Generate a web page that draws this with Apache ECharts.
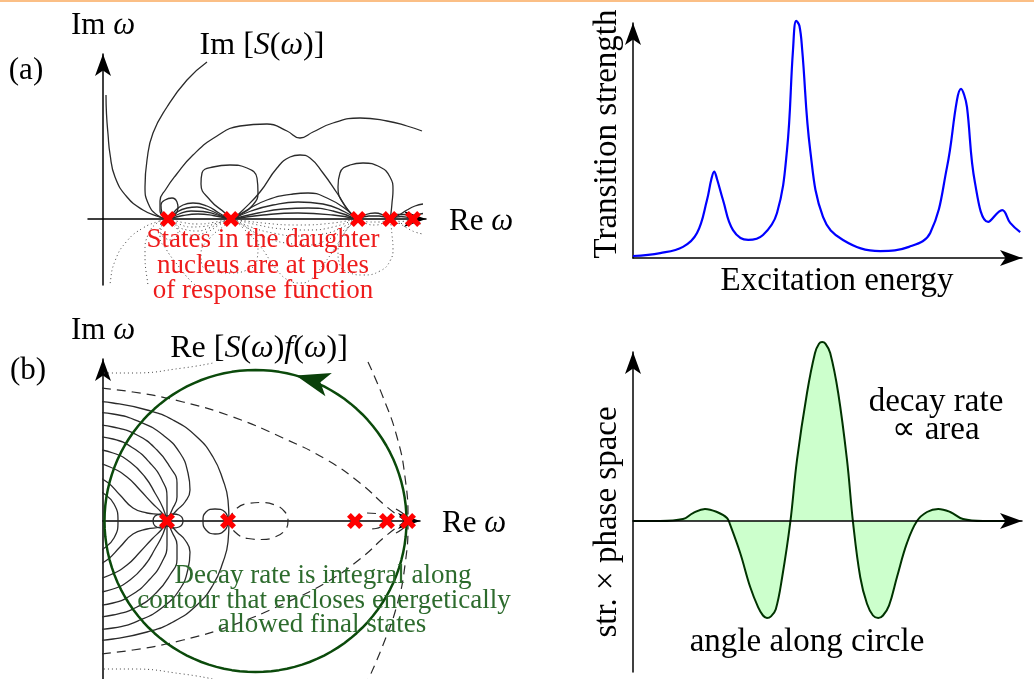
<!DOCTYPE html>
<html><head><meta charset="utf-8">
<script src="https://cdn.jsdelivr.net/npm/echarts@6/dist/echarts.min.js"></script>
<style>html,body{margin:0;padding:0;background:#fff}#c{width:1034px;height:679px}</style>
</head><body><div id="c"></div>
<script>
// ---------- Panel (a): Im[S(w)] contours, units of Re w / Im w ----------
const polesA = [6.5, 12.8, 25.5, 28.7, 31.0];
const aC1 = [[0.3,12.4],[0.35,10.5],[0.5,8.5],[0.7,6.5],[1.2,4.2],[2.4,2.2],[4.0,0.9],[5.5,0.25],[6.4,0]];
const aC2 = [[10.4,15.7],[8.4,13.9],[6.4,11.2],[5.0,8.6],[4.4,5.9],[4.2,3.2],[4.5,1.6],[5.4,0.4],[6.4,0]];
const aC3 = [[6.4,0],[5.7,0.8],[5.7,1.8],[6.3,3.0],[7.3,4.4],[9.0,6.4],[11.4,8.3],[13.7,9.3],[16.4,9.5],[18.4,8.8],[19.7,8.1],[21.0,8.7],[23.0,9.6],[25.7,10.1],[28.4,9.8],[30.4,9.3],[31.9,8.8]];
const aLoop1 = [[6.4,0],[5.9,0.6],[5.8,1.4],[6.2,1.9],[6.9,2.1],[7.4,1.7],[7.5,1.1],[7.2,0.4],[6.6,0]];
const aL12a = [[6.6,0],[7.2,0.8],[8.0,1.4],[9.0,1.6],[10.4,1.3],[11.6,0.6],[12.6,0]];
const aL12b = [[6.6,0],[7.4,0.7],[8.4,1.1],[9.4,1.2],[10.6,0.9],[11.7,0.4],[12.6,0]];
const aL12c = [[6.6,0],[7.6,0.5],[8.8,0.8],[10.0,0.75],[11.3,0.45],[12.6,0]];
const aL12d = [[6.6,0],[8.0,0.35],[9.5,0.5],[11.0,0.35],[12.6,0]];
const aLoop2 = [[12.8,0],[12.2,0.6],[10.7,1.9],[9.8,3.5],[9.9,4.6],[11.0,5.2],[12.7,5.4],[14.4,5.1],[15.4,4.1],[15.5,2.6],[14.9,1.3],[13.7,0.4],[13.0,0]];
const aPeak23 = [[13.0,0],[14.0,0.9],[15.7,2.7],[17.4,5.1],[18.7,6.2],[19.7,6.4],[20.7,6.1],[22.0,4.6],[23.4,2.6],[24.5,0.9],[25.3,0]];
const aL23a = [[13.0,0],[14.4,0.9],[16.4,1.9],[19.0,2.5],[20.5,2.6],[22.4,2.1],[24.4,0.9],[25.3,0]];
const aL23b = [[13.0,0],[14.8,0.8],[17.0,1.4],[19.5,1.7],[22.0,1.5],[24.2,0.7],[25.3,0]];
const aL23c = [[13.0,0],[15.5,0.6],[18.0,1.0],[20.5,1.1],[23.0,0.8],[25.3,0]];
const aL23d = [[13.0,0],[16.0,0.4],[19.5,0.6],[23.0,0.4],[25.3,0]];
const aLoop34 = [[25.4,0],[24.0,1.6],[23.5,3.2],[23.7,4.6],[24.7,5.4],[26.0,5.6],[27.7,5.2],[28.7,4.2],[29.0,2.9],[28.9,1.6],[28.8,0.6],[28.7,0]];
const aL34a = [[25.6,0],[26.3,0.45],[27.2,0.6],[28.0,0.4],[28.6,0]];
const aL34b = [[25.6,0],[26.6,0.3],[27.6,0.3],[28.6,0]];
const aL45a = [[28.8,0],[29.4,0.45],[30.1,0.45],[30.9,0]];
const aL45b = [[28.8,0],[29.8,0.25],[30.9,0]];
const aRight1 = [[28.9,0],[29.6,0.4],[30.4,0.9],[31.2,1.3],[32.0,1.5]];
const aRight2 = [[31.0,0],[31.5,0.4],[32.0,0.55]];

// ---------- Panel (b): Re[S(w) f(w)] contours ----------
const polesB = [6.4, 12.5, 25.2, 28.4, 30.5];
const bB1 = [[-1.5,12.0],[1.0,11.8],[4.4,11.1],[7.0,10.1],[9.4,8.4],[11.0,6.4],[12.0,4.1],[12.5,2.1],[12.6,0]];
const bB2 = [[-1.5,10.9],[1.0,10.7],[3.7,9.9],[6.0,8.6],[7.7,6.8],[8.5,4.8],[8.7,3.1],[8.2,1.9],[7.4,1.1],[6.4,0]];
const bB3 = [[-1.5,9.7],[1.0,9.4],[3.4,8.6],[5.4,7.1],[6.7,5.4],[7.4,3.8],[7.4,2.4],[6.9,1.1],[6.4,0]];
const bB4 = [[-1.5,8.5],[1.0,8.2],[3.0,7.3],[4.7,5.8],[5.9,4.1],[6.4,2.4],[6.4,0]];
const bB5 = [[-1.5,7.3],[1.0,6.8],[2.7,5.9],[4.2,4.4],[5.2,2.8],[6.0,1.3],[6.4,0]];
const bB6 = [[-1.5,6.1],[0.7,5.4],[2.4,4.4],[3.7,3.1],[4.9,1.8],[5.9,0.8],[6.4,0]];
const bB7 = [[-1.5,4.9],[0.4,3.9],[1.7,2.6],[3.0,1.3],[4.4,0.8],[5.7,0.6],[6.4,0]];
const bA1 = [[-1.5,2.4],[-1.0,1.4],[-0.8,0],[-1.0,-1.4],[-1.5,-2.4]];
const bA2 = [[-1.5,3.6],[0,2.8],[1.1,1.7],[1.5,0],[1.1,-1.7],[0,-2.8],[-1.5,-3.6]];
const bLoopP1 = [[5.0,0],[5.2,0.5],[5.8,0.7],[6.4,0.5],[7.0,0.7],[7.6,0.6],[8.0,0],[7.6,-0.6],[7.0,-0.7],[6.4,-0.5],[5.8,-0.7],[5.2,-0.5],[5.0,0]];
const bLoopP2 = [[12.5,0],[12.2,0.9],[11.2,1.2],[10.3,0.9],[10.0,0],[10.3,-0.9],[11.2,-1.3],[12.2,-0.9],[12.5,0]];
const bEll = [[12.6,0],[13.2,1.1],[14.5,1.75],[15.8,1.85],[17.2,1.6],[18.2,0.9],[18.5,0],[18.2,-0.9],[17.2,-1.6],[15.8,-1.85],[14.5,-1.75],[13.2,-1.1],[12.6,0]];
const bD1 = [[-1.6,13.4],[3.0,12.9],[8.0,11.9],[13.0,10.4],[18.0,8.3],[22.4,6.1],[25.7,3.8],[28.4,1.4],[30.3,0]];
const bD2 = [[26.5,15.9],[28.0,12.4],[29.4,8.4],[30.2,4.4],[30.5,0]];
const bDot = [[-1.5,14.8],[3.0,14.8],[8.0,15.3],[11.0,15.8]];
const bL34 = [[26.4,0.8],[27.3,0.75],[28.0,0.4],[28.3,0]];
const bStar = [[29.3,1.2],[30.5,0],[29.3,-1.2]];
const circleCenter = [15.25, 0];
const circleRadius = 15.1;
const arrowAngleDeg = 74.5;

// ---------- Top right: transition strength vs excitation energy ----------
const strength = [[0,0.08],[0.68,0.2],[1.25,0.45],[1.6,1.01],[1.85,2.35],[1.96,3.2],[2.03,3.5],[2.1,3.2],[2.25,2.35],[2.5,1.13],[2.88,0.73],[3.25,0.93],[3.6,1.82],[3.85,4.37],[4.0,8.42],[4.08,9.6],[4.16,9.4],[4.23,8.42],[4.43,4.37],[4.75,1.66],[5.25,0.73],[6.18,0.28],[6.9,0.45],[7.43,1.01],[7.85,3.68],[8.1,6.4],[8.2,6.85],[8.28,6.6],[8.35,6.11],[8.55,3.04],[8.88,1.46],[9.23,1.94],[9.43,1.42],[9.68,1.05]];

// ---------- Bottom right: strength x phase space vs angle along circle ----------
const integrand = [[0,0],[0.68,0],[1.25,0.11],[1.5,0.44],[1.8,0.67],[2.1,0.5],[2.35,0.17],[2.43,-0.22],[2.68,-1.78],[2.93,-3.67],[3.13,-4.8],[3.25,-5.25],[3.35,-5.39],[3.45,-5.3],[3.57,-4.9],[3.73,-3.11],[3.93,-0.11],[4.1,3.39],[4.35,7.11],[4.55,9.33],[4.65,9.85],[4.73,9.94],[4.81,9.85],[4.93,9.33],[5.13,7.11],[5.35,3.39],[5.5,-0.06],[5.68,-3.11],[5.85,-4.6],[6.0,-5.25],[6.13,-5.39],[6.25,-5.25],[6.4,-4.7],[6.6,-3.11],[6.85,-1.22],[7.1,0],[7.35,0.5],[7.63,0.67],[7.93,0.5],[8.25,0.11],[8.75,0],[9.5,0]];

// ---------- build ----------
const mirror = d => d.map(p => [p[0], -p[1]]);
const SOLID = {color:'#2a2a2a', width:1.3, type:'solid'};
const DASH = {color:'#2a2a2a', width:1.2, type:[9,6]};
const DOT = {color:'#444', width:1, type:[1,3]};
function ln(data, gi, style, extra) {
  return Object.assign({type:'line', xAxisIndex:gi, yAxisIndex:gi, data:data, smooth:0.5, symbol:'none',
    clip:false, silent:true, lineStyle:style, z:3, animation:false}, extra || {});
}
const series = [];
const aSolid = [aC1,aC2,aC3,aLoop1,aL12a,aL12b,aL12c,aL12d,aLoop2,aPeak23,aL23a,aL23b,aL23c,aL23d,aLoop34,aL34a,aL34b,aL45a,aL45b,aRight1,aRight2];
aSolid.forEach(d => series.push(ln(d, 0, SOLID)));
aSolid.forEach(d => series.push(ln(mirror(d), 0, DOT, {clip:true})));

const bSolidHalf = [bB1,bB2,bB3,bB4,bB5,bB6,bB7];
bSolidHalf.forEach(d => { series.push(ln(d,1,SOLID)); series.push(ln(mirror(d),1,SOLID)); });
[bA1,bA2,bLoopP1,bLoopP2,bStar].forEach(d => series.push(ln(d,1,SOLID)));
series.push(ln(bEll,1,DASH));
series.push(ln(bD1,1,DASH)); series.push(ln(mirror(bD1),1,DASH));
series.push(ln(bD2.concat(mirror(bD2).reverse()),1,DASH));
series.push(ln(bL34.concat(mirror(bL34).reverse()),1,DASH));
series.push(ln(bDot,1,DOT)); series.push(ln(mirror(bDot),1,DOT));

const circ = [];
for (let k = 0; k <= 360; k += 3) {
  const t = k * Math.PI / 180;
  circ.push([circleCenter[0] + circleRadius*Math.cos(t), circleCenter[1] + circleRadius*Math.sin(t)]);
}
const GREEN = '#0b4a0b';
series.push(ln(circ,1,{color:GREEN,width:2.5},{smooth:false,z:5}));
const at = arrowAngleDeg*Math.PI/180;
series.push({type:'scatter', xAxisIndex:1, yAxisIndex:1, silent:true, animation:false, z:6,
  data:[[circleCenter[0]+circleRadius*Math.cos(at), circleCenter[1]+circleRadius*Math.sin(at)]],
  symbol:'arrow', symbolSize:[18,34], symbolRotate:arrowAngleDeg, itemStyle:{color:'#0a400a', opacity:1}});

const XPATH = 'path://M0,2.4L2.4,0L5,2.6L7.6,0L10,2.4L7.4,5L10,7.6L7.6,10L5,7.4L2.4,10L0,7.6L2.6,5Z';
series.push({type:'scatter', xAxisIndex:0, yAxisIndex:0, silent:true, animation:false, z:8,
  data: polesA.map(u => [u,0]), symbol:XPATH, symbolSize:16, itemStyle:{color:'#ff0000', opacity:1}});
series.push({type:'scatter', xAxisIndex:1, yAxisIndex:1, silent:true, animation:false, z:8,
  data: polesB.map(u => [u,0]), symbol:XPATH, symbolSize:16, itemStyle:{color:'#ff0000', opacity:1}});

series.push(ln(strength,2,{color:'#0000ff',width:2.2},{smooth:0.4}));
series.push(ln(integrand,3,{color:'#003300',width:2},{smooth:0.4, areaStyle:{color:'#ccffcc',opacity:1}}));

function axis(min, max, extra) {
  return Object.assign({type:'value', min:min, max:max, axisTick:{show:false}, axisLabel:{show:false}, splitLine:{show:false},
    axisLine:{show:true, onZero:true, symbol:['none','arrow'], symbolSize:[12,22], lineStyle:{color:'#000', width:1.5}}}, extra||{});
}
const grids = [
  {left:88, top:54, width:338, height:231},
  {left:103, top:359, width:317, height:320},
  {left:633, top:23, width:389, height:235},
  {left:633, top:352, width:389, height:320}
].map((g,i) => Object.assign(g, {outerBoundsMode:'none', containLabel:false}));
const xAxes = [axis(-1.5,32.3,{gridIndex:0}), axis(0,31.7,{gridIndex:1}), axis(0,9.725,{gridIndex:2}), axis(0,9.725,{gridIndex:3, z:5})];
const yAxes = [axis(-6.6,16.5,{gridIndex:0}), axis(-15.8,16.2,{gridIndex:1}), axis(0,9.514,{gridIndex:2}), axis(-8.389,9.389,{gridIndex:3})];

const FONT = '"Liberation Serif", "Times New Roman", serif';
function T(text, x, y, size, color, rot) {
  return {type:'text', x:x, y:y, rotation:rot||0, z:20, silent:true,
    style:{text:text, fontFamily:FONT, fontSize:size, fill:color||'#000', align:'center', verticalAlign:'middle',
      rich:{i:{fontFamily:FONT, fontSize:size, fontStyle:'italic', fill:color||'#000'}}}};
}
const RED = '#ee1c1c', GTXT = '#2d6b2d';
const graphic = [
  {type:'rect', shape:{x:0,y:0,width:1034,height:2}, style:{fill:'#fbbf86'}, silent:true},
  T('(a)', 26, 71, 31), T('Im {i|ω}', 103, 26, 31), T('Im [{i|S}({i|ω})]', 262, 46, 32), T('Re {i|ω}', 481, 222, 31),
  T('States in the daughter', 263, 240, 27, RED), T('nucleus are at poles', 263, 266, 27, RED), T('of response function', 263, 291, 27, RED),
  T('(b)', 28, 371, 31), T('Im {i|ω}', 103, 331, 31), T('Re [{i|S}({i|ω}){i|f}({i|ω})]', 259, 349, 32), T('Re {i|ω}', 474, 524, 31),
  T('Decay rate is integral along', 323, 576, 27, GTXT), T('contour that encloses energetically', 324, 601, 27, GTXT), T('allowed final states', 322, 625, 27, GTXT),
  T('Transition strength', 607, 134, 33, '#000', Math.PI/2), T('Excitation energy', 837, 281, 33),
  T('decay rate', 936, 402, 33), T('∝ area', 936, 430, 33),
  T('str. × phase space', 607, 522, 33, '#000', Math.PI/2), T('angle along circle', 807, 642, 33)
];

const chart = echarts.init(document.getElementById('c'), null, {renderer:'canvas', width:1034, height:679});
chart.setOption({animation:false, backgroundColor:'#fff', grid:grids, xAxis:xAxes, yAxis:yAxes, series:series, graphic:graphic});
</script></body></html>
